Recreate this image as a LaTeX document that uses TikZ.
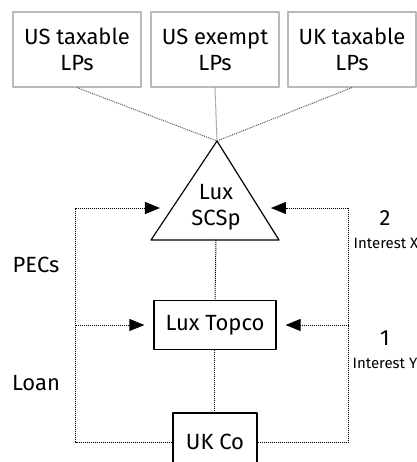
\documentclass[tikz,border=0pt]{standalone}
\usepackage{fontspec}
\setmainfont{Fira Sans}
\usetikzlibrary{arrows.meta}

\begin{document}
\begin{tikzpicture}[line join=round,x=0.5pt,y=-0.5pt,>={Triangle[length=7.5pt,width=6pt]},
        every node/.style={font=\fontsize{11}{13}\selectfont,align=center,inner sep=0pt},
        lp/.style={draw=gray!55,line width=0.6pt,minimum width=64pt,minimum height=37.5pt},
        ent/.style={draw=black,line width=0.6pt},
        link/.style={gray!70!black,line width=0.5pt,dash pattern=on 0.5pt off 0.5pt},
        flow/.style={black,line width=0.5pt,dash pattern=on 0.5pt off 0.5pt},
        small/.style={font=\fontsize{7.5}{9}\selectfont}]
        \clip (0,0) rectangle (417,462);
        % investors
        \node[lp] (ustax) at (77,49.5) {US taxable\\LPs};
        \node[lp] (usex) at (215,49.5) {US exempt\\LPs};
        \node[lp] (uktax) at (352,49.5) {UK taxable\\LPs};
        % fund and holding chain
        \coordinate (apex) at (217,141);
        \coordinate (base) at (216,240);
        \draw[line width=0.6pt] (apex) -- (151,240) -- (279,240) -- cycle;
        \node (scsp) at (216,207) {Lux\\SCSp};
        \node[ent,minimum width=61pt,minimum height=24.5pt] (topco) at (215,325) {Lux Topco};
        \node[ent,minimum width=42pt,minimum height=29pt] (ukco) at (215,442) {UK Co};
        \draw[link] (ustax.south) -- (apex);
        \draw[link] (usex.south) -- (apex);
        \draw[link] (uktax.south) -- (apex);
        \draw[flow] (base) -- (topco.north);
        \draw[flow] (topco.south) -- (ukco.north);
        % PECs and loan
        \coordinate (ltop) at (76,208);
        \coordinate (ltip) at (160,208);
        \coordinate (lmid) at (76,325);
        \draw[flow,->] (ukco.west) -| (ltop) -- (ltip);
        \draw[flow,->,shorten >=4.5pt] (lmid) -- (topco.west);
        % interest
        \coordinate (rtop) at (349,208);
        \coordinate (rtip) at (271,208);
        \coordinate (rmid) at (349,325);
        \draw[flow,->] (ukco.east) -| (rtop) -- (rtip);
        \draw[flow,->,shorten >=4.5pt] (rmid) -- (topco.east);
        % labels
        \node (pecs) at (36,265) {PECs};
        \node (loan) at (36,383) {Loan};
        \node (two) at (385,218) {2};
        \node[small] (intx) at (386,243) {Interest X};
        \node (one) at (385,338) {1};
        \node[small] (inty) at (385,363) {Interest Y};
    \end{tikzpicture}
\end{document}
